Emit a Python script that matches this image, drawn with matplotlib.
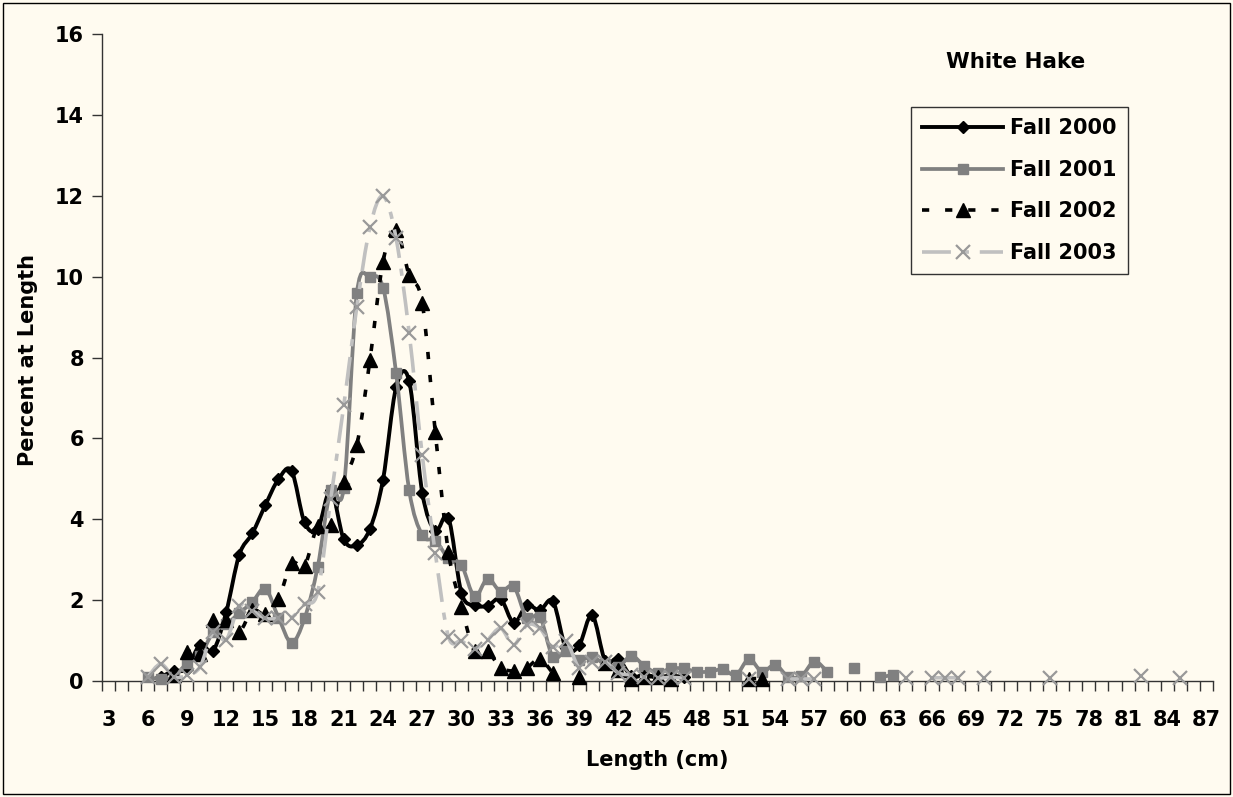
import numpy as np
import matplotlib
matplotlib.use('Agg')
import matplotlib.pyplot as plt
from matplotlib.path import Path
from matplotlib.patches import PathPatch, Rectangle
from matplotlib.lines import Line2D

N = None
# Length categories (cm) shown on the axis
categories = list(range(3, 88))
label_lengths = list(range(3, 88, 3))

# Percent at length by series (None = no fish at that length -> gap)
len_2000 = [7, 8, 9, 10, 11, 12, 13, 14, 15, 16, 17, 18, 19, 20, 21, 22, 23, 24, 25, 26,
            27, 28, 29, 30, 31, 32, 33, 34, 35, 36, 37, 38, 39, 40, 41, 42, 43, 44, 45, 46, 47]
pct_2000 = [0.10, 0.25, 0.30, 0.90, 0.75, 1.70, 3.12, 3.65, 4.35, 4.99, 5.20, 3.92, 3.76, 4.72,
            3.50, 3.36, 3.76, 4.98, 7.26, 7.42, 4.66, 3.72, 4.04, 2.18, 1.87, 1.86, 2.03, 1.44,
            1.87, 1.75, 1.97, 0.81, 0.88, 1.63, 0.50, 0.55, 0.12, 0.15, 0.10, 0.13, 0.10]

len_2001 = [6, 7, 8, 9, 10, 11, 12, 13, 14, 15, 16, 17, 18, 19, 20, 21, 22, 23, 24, 25, 26,
            27, 28, 29, 30, 31, 32, 33, 34, 35, 36, 37, 38, 39, 40, 41, 42, 43, 44, 45, 46,
            47, 48, 49, 50, 51, 52, 53, 54, 55, 56, 57, 58, 59, 60, 61, 62, 63]
pct_2001 = [0.10, 0.05, 0.10, 0.44, 0.63, 1.20, 1.40, 1.68, 1.95, 2.28, 1.57, 0.95, 1.55, 2.82,
            4.72, 4.78, 9.59, 9.98, 9.73, 7.62, 4.72, 3.61, 3.47, 3.04, 2.87, 2.09, 2.53, 2.21,
            2.34, 1.56, 1.59, 0.59, 0.74, 0.53, 0.59, 0.42, 0.35, 0.62, 0.37, 0.20, 0.31, 0.31,
            0.23, 0.23, 0.29, 0.15, 0.54, 0.23, 0.40, 0.11, 0.12, 0.48, 0.23, N, 0.33, N,
            0.09, 0.15]

len_2002 = [8, 9, 10, 11, 12, 13, 14, 15, 16, 17, 18, 19, 20, 21, 22, 23, 24, 25, 26, 27, 28,
            29, 30, 31, 32, 33, 34, 35, 36, 37, 38, 39, 40, 41, 42, 43, 44, 45, 46, 47, 52, 53]
pct_2002 = [0.15, 0.72, 0.68, 1.50, 1.52, 1.22, 1.75, 1.65, 2.02, 2.91, 2.85, 3.84, 3.86, 4.93,
            5.84, 7.94, 10.37, 11.15, 10.04, 9.35, 6.15, 3.20, 1.84, 0.73, 0.73, 0.33, 0.25,
            0.33, 0.54, 0.19, N, 0.10, N, 0.45, 0.28, 0.04, 0.10, 0.10, 0.05, N, 0.06, 0.06]

len_2003 = [6, 7, 8, 9, 10, 11, 12, 13, 14, 15, 16, 17, 18, 19, 20, 21, 22, 23, 24, 25, 26,
            27, 28, 29, 30, 31, 32, 33, 34, 35, 36, 37, 38, 39, 40, 41, 42, 43, 44, 45, 46,
            47, 48, 52, 53, 55, 56, 57, 58, 64, 65, 66, 67, 68, 69, 70, 71, 75, 76, 82, 83, 85]
pct_2003 = [0.10, 0.42, 0.10, 0.14, 0.35, 1.20, 1.02, 1.85, 1.74, 1.55, 1.55, 1.57, 1.90, 2.20,
            4.50, 6.82, 9.26, 11.22, 11.99, 10.95, 8.61, 5.59, 3.17, 1.10, 0.99, 0.80, 1.02,
            1.30, 0.89, 1.38, 1.30, 0.85, 1.00, 0.33, 0.46, 0.48, 0.20, 0.15, 0.10, 0.07, 0.09,
            0.07, N, 0.05, N, 0.05, 0.05, 0.05, N, 0.08, N, 0.08, 0.08, 0.08, N, 0.08, N,
            0.08, N, 0.12, N, 0.08]

series_names = ['Fall 2000', 'Fall 2001', 'Fall 2002', 'Fall 2003']

BG = '#FFFBF0'
W, H = 1233, 797
plt.rcParams['font.family'] = ['DejaVu Sans']
plt.rcParams['font.weight'] = 'bold'

fig = plt.figure(figsize=(W / 100, H / 100), dpi=100, facecolor=BG)
ax = fig.add_axes([102 / W, (H - 681) / H, (1213 - 102) / W, (681 - 34) / H], facecolor=BG)


def runs(xs, ys):
    cur_x, cur_y, out = [], [], []
    for x, y in zip(xs, ys):
        if y is None:
            if cur_x:
                out.append((cur_x, cur_y))
            cur_x, cur_y = [], []
        else:
            cur_x.append(x)
            cur_y.append(y)
    if cur_x:
        out.append((cur_x, cur_y))
    return out


def smooth_path(xs, ys):
    pts = np.column_stack([xs, ys]).astype(float)
    n = len(pts)
    verts = [tuple(pts[0])]
    codes = [Path.MOVETO]
    for i in range(n - 1):
        p0 = pts[max(i - 1, 0)]
        p1 = pts[i]
        p2 = pts[i + 1]
        p3 = pts[min(i + 2, n - 1)]
        c1 = p1 + (p2 - p0) / 6.0
        c2 = p2 - (p3 - p1) / 6.0
        verts += [tuple(c1), tuple(c2), tuple(p2)]
        codes += [Path.CURVE4] * 3
    return Path(verts, codes)


styles = [
    dict(lc='black', lw=2.8, ls='-', marker='D', ms=6.5, mfc='black', mec='black', mew=1),
    dict(lc='#808080', lw=2.7, ls='-', marker='s', ms=7.5, mfc='#808080', mec='#808080', mew=1),
    dict(lc='black', lw=2.6, ls=(0, (2.0, 4.4)), marker='^', ms=9.5, mfc='black', mec='black', mew=1),
    dict(lc='#C0C0C0', lw=2.6, ls=(0, (8, 3, 2, 3)), marker='x', ms=9.5, mfc='none', mec='#999999', mew=1.6),
]

data = [(len_2000, pct_2000), (len_2001, pct_2001), (len_2002, pct_2002), (len_2003, pct_2003)]
handles = []
for i, ((xs, ys), st, name) in enumerate(zip(data, styles, series_names)):
    z = 3 + i
    for rx, ry in runs(xs, ys):
        if len(rx) >= 2:
            patch = PathPatch(smooth_path(rx, ry), fill=False, edgecolor=st['lc'], lw=st['lw'],
                              linestyle=st['ls'], capstyle='butt', joinstyle='round', zorder=z)
            ax.add_patch(patch)
        ax.plot(rx, ry, linestyle='none', marker=st['marker'], ms=st['ms'], mfc=st['mfc'],
                mec=st['mec'], mew=st['mew'], zorder=z + 0.5, clip_on=False)
    handles.append(Line2D([], [], color=st['lc'], lw=st['lw'], ls=st['ls'], marker=st['marker'],
                          ms=st['ms'], mfc=st['mfc'], mec=st['mec'], mew=st['mew'],
                          dash_capstyle='butt', label=name))

ax.set_xlim(categories[0] - 0.5, categories[-1] + 0.5)
ax.set_ylim(0, 16)
ax.set_xticks(np.arange(categories[0] - 0.5, categories[-1] + 1.0, 1.0))
ax.set_xticklabels([])
ax.set_xticks(label_lengths, minor=True)
ax.set_xticklabels([str(v) for v in label_lengths], minor=True)
ax.tick_params(axis='x', which='major', length=7, width=1, direction='out', color='#333333')
ax.tick_params(axis='x', which='minor', length=0, pad=21, labelsize=15)
ax.set_yticks(range(0, 17, 2))
ax.tick_params(axis='y', length=7, width=1, direction='out', pad=6, labelsize=15, color='#333333')
for lab in ax.get_xticklabels(minor=True) + ax.get_yticklabels():
    lab.set_fontweight('bold')

for s in ['top', 'right']:
    ax.spines[s].set_visible(False)
for s in ['left', 'bottom']:
    ax.spines[s].set_color('#333333')
    ax.spines[s].set_linewidth(1)

fig.text(657 / W, 1 - 760 / H, 'Length (cm)', ha='center', va='center', fontsize=15, fontweight='bold')
fig.text(28 / W, 1 - 360 / H, 'Percent at Length', ha='center', va='center', rotation=90,
         fontsize=15, fontweight='bold')
fig.text(1016 / W, 1 - 62 / H, 'White Hake', ha='center', va='center', fontsize=15.5, fontweight='bold')

leg = fig.legend(handles=handles, loc='upper left', bbox_to_anchor=(911 / W, 1 - 107 / H),
                 bbox_transform=fig.transFigure, borderaxespad=0, frameon=True, fancybox=False,
                 edgecolor='#333333', facecolor=BG, framealpha=1,
                 prop={'size': 15, 'weight': 'bold'}, handlelength=3.85, handletextpad=0.35,
                 labelspacing=1.03, borderpad=0.55)
leg.get_frame().set_linewidth(1.0)

fig.add_artist(Rectangle((3 / W, 3 / H), (W - 6) / W, (H - 6) / H, transform=fig.transFigure,
                         fill=False, edgecolor='black', lw=1.0))

fig.savefig('out.png', dpi=100, facecolor=BG)
